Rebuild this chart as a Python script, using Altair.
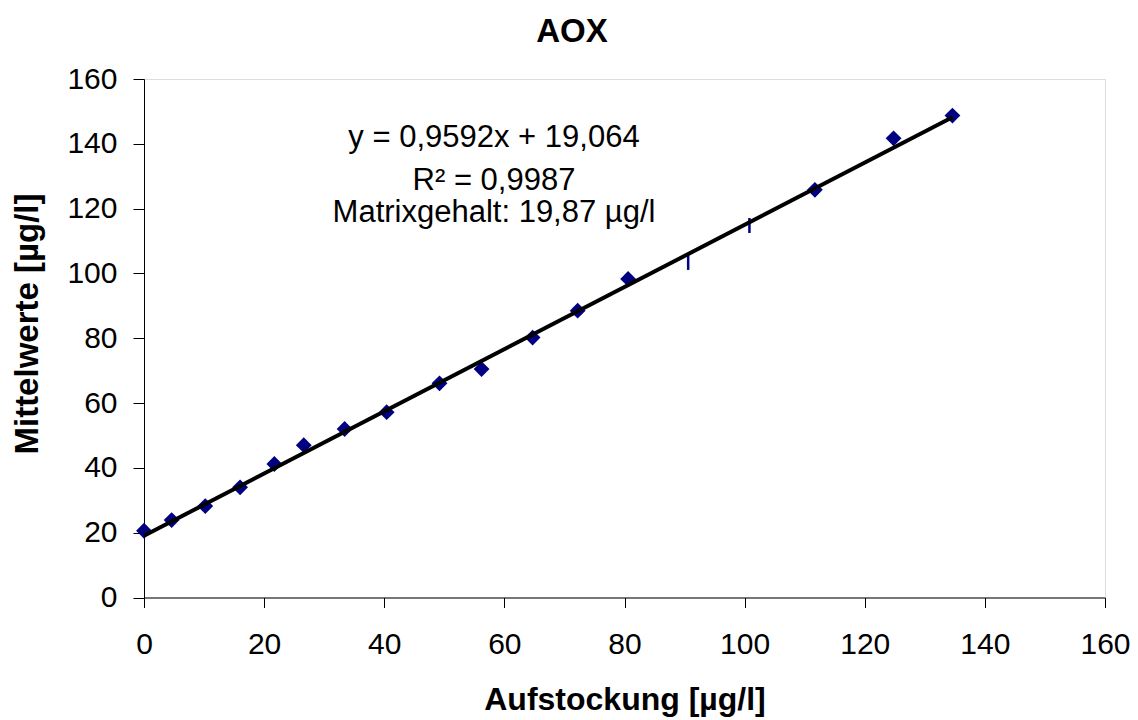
import altair as alt
import pandas as pd

# Data
x_vals = [0, 4.6, 10.2, 16.0, 21.7, 26.6, 33.4, 40.4, 49.2, 56.2, 64.7, 72.2, 80.6, 111.7, 124.8, 134.6]
y_vals = [20.6, 23.9, 28.2, 34.0, 41.2, 47.0, 52.0, 57.2, 66.1, 70.5, 80.2, 88.5, 98.3, 125.8, 141.7, 148.7]
dash_x = [90.6, 100.8]
dash_y = [103.4, 114.8]
trend_x = [0, 134.6]
trend_y = [19.06, 148.2]
axis_ticks = [0, 20, 40, 60, 80, 100, 120, 140, 160]
title_text = "AOX"
x_title = "Aufstockung [µg/l]"
y_title = "Mittelwerte [µg/l]"
ann_lines = ["y = 0,9592x + 19,064", "R² = 0,9987", "Matrixgehalt: 19,87 µg/l"]

FONT = "Liberation Sans"
NAVY = "#000080"

pts = pd.DataFrame({"x": x_vals, "y": y_vals})
dashes = pd.DataFrame({"x": dash_x, "y": dash_y})
trend = pd.DataFrame({"x": trend_x, "y": trend_y})

xs = alt.Scale(domain=[0, 160], nice=False, zero=False)
ys = alt.Scale(domain=[0, 160], nice=False, zero=False)

xax = alt.Axis(
    title=x_title, values=axis_ticks, grid=False, labelFlush=False,
    tickSize=10, labelPadding=22, labelFontSize=30, labelFont=FONT,
    labelColor="#000", titleFont=FONT, titleFontSize=32, titleFontWeight="bold",
    titleColor="#000", titleX=480.5, titleY=111.5, titleBaseline="alphabetic",
    titleAlign="center", domainColor="#000", tickColor="#000",
)
yax = alt.Axis(
    title=y_title, values=axis_ticks, grid=False, labelFlush=False,
    tickSize=11, labelPadding=16, labelFontSize=30, labelFont=FONT,
    labelColor="#000", titleFont=FONT, titleFontSize=33, titleFontWeight="bold",
    titleColor="#000", titleX=-107, titleY=244.5, titleBaseline="alphabetic",
    titleAlign="center", titleAngle=-90, domainColor="#000", tickColor="#000",
)

base_pts = alt.Chart(pts).mark_point(
    shape="diamond", filled=True, size=250, color=NAVY, opacity=1
).encode(
    x=alt.X("x:Q", scale=xs, axis=xax),
    y=alt.Y("y:Q", scale=ys, axis=yax),
)

dash_layer = alt.Chart(dashes).mark_tick(
    orient="vertical", size=15, thickness=2.5, color=NAVY, opacity=1
).encode(
    x=alt.X("x:Q", scale=xs),
    y=alt.Y("y:Q", scale=ys),
)

line_layer = alt.Chart(trend).mark_line(color="#000", strokeWidth=4).encode(
    x=alt.X("x:Q", scale=xs),
    y=alt.Y("y:Q", scale=ys),
)

title_layer = alt.Chart(pd.DataFrame({"t": [title_text]})).mark_text(
    font=FONT, fontSize=33, fontWeight="bold", color="#000",
    align="center", baseline="alphabetic"
).encode(text="t:N", x=alt.value(428), y=alt.value(-37))

ann_layers = []
ann_y = [68, 111, 143]
for line, yy in zip(ann_lines, ann_y):
    ann_layers.append(
        alt.Chart(pd.DataFrame({"t": [line]})).mark_text(
            font=FONT, fontSize=31, color="#000", align="center", baseline="alphabetic"
        ).encode(text="t:N", x=alt.value(350), y=alt.value(yy))
    )

chart = alt.layer(base_pts, dash_layer, line_layer, title_layer, *ann_layers).properties(
    width=961, height=518.5,
    autosize=alt.AutoSizeParams(type="none"),
    padding={"left": 136, "top": 71, "right": 25, "bottom": 122},
).configure_view(stroke=None).configure(background="white")

chart.save("out.html", embed_options={"renderer": "svg", "actions": False})
